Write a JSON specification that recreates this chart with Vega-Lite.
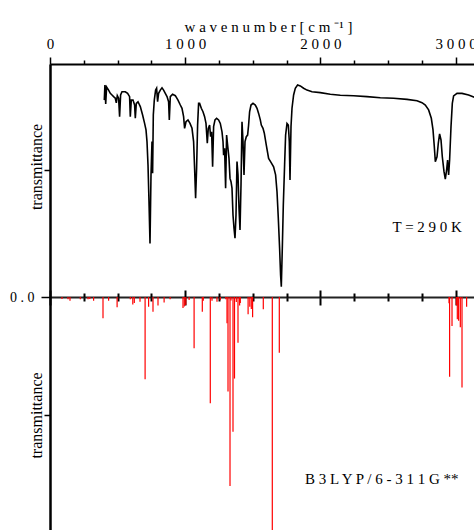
{
  "$schema": "https://vega.github.io/schema/vega-lite/v6.json",
  "width": 424,
  "height": 466,
  "autosize": {"type": "none"},
  "padding": {"left": 50, "top": 64, "right": 0, "bottom": 0},
  "background": "white",
  "config": {"view": {"stroke": null}},
  "datasets": {
    "exp": [
      {"wn":401.6,"t":84.5},{"wn":406.1,"t":91.0},{"wn":412.0,"t":82.8},{"wn":418.6,"t":90.1},{"wn":433.4,"t":88.8},{"wn":446.0,"t":87.4},{"wn":458.6,"t":86.7},{"wn":470.4,"t":86.0},{"wn":483.0,"t":85.3},{"wn":490.4,"t":83.3},{"wn":497.8,"t":86.4},{"wn":507.4,"t":85.3},{"wn":514.8,"t":77.4},{"wn":522.2,"t":86.7},{"wn":532.5,"t":88.1},{"wn":556.9,"t":88.1},{"wn":574.0,"t":87.4},{"wn":588.7,"t":86.0},{"wn":593.9,"t":77.4},{"wn":601.3,"t":84.5},{"wn":613.9,"t":84.5},{"wn":625.7,"t":82.4},{"wn":630.9,"t":76.7},{"wn":638.3,"t":83.1},{"wn":650.9,"t":83.8},{"wn":667.9,"t":81.7},{"wn":684.9,"t":78.1},{"wn":699.7,"t":74.5},{"wn":710.1,"t":71.7},{"wn":717.4,"t":66.7},{"wn":724.9,"t":56.7},{"wn":732.2,"t":40.9},{"wn":739.6,"t":23.0},{"wn":747.0,"t":52.4},{"wn":754.4,"t":66.7},{"wn":758.9,"t":53.1},{"wn":764.1,"t":78.1},{"wn":771.4,"t":84.5},{"wn":781.1,"t":88.8},{"wn":788.5,"t":89.6},{"wn":795.8,"t":83.8},{"wn":803.3,"t":87.4},{"wn":815.8,"t":88.8},{"wn":828.4,"t":89.8},{"wn":840.2,"t":88.8},{"wn":852.8,"t":87.4},{"wn":865.4,"t":86.0},{"wn":877.2,"t":83.8},{"wn":882.4,"t":76.0},{"wn":889.8,"t":86.0},{"wn":906.8,"t":87.0},{"wn":926.8,"t":86.4},{"wn":946.7,"t":84.5},{"wn":963.8,"t":82.4},{"wn":976.3,"t":81.0},{"wn":988.1,"t":77.4},{"wn":995.5,"t":72.4},{"wn":1005.9,"t":75.2},{"wn":1020.7,"t":76.0},{"wn":1035.5,"t":74.5},{"wn":1050.3,"t":72.4},{"wn":1062.1,"t":66.7},{"wn":1069.5,"t":55.2},{"wn":1076.9,"t":42.4},{"wn":1084.3,"t":55.2},{"wn":1091.7,"t":73.8},{"wn":1099.1,"t":83.1},{"wn":1106.5,"t":83.1},{"wn":1119.1,"t":81.0},{"wn":1131.6,"t":79.5},{"wn":1143.5,"t":77.4},{"wn":1153.8,"t":74.5},{"wn":1163.4,"t":66.0},{"wn":1170.8,"t":72.4},{"wn":1180.5,"t":73.8},{"wn":1187.9,"t":68.8},{"wn":1195.3,"t":70.9},{"wn":1202.7,"t":55.9},{"wn":1210.1,"t":73.1},{"wn":1220.4,"t":76.0},{"wn":1232.2,"t":76.7},{"wn":1247.0,"t":76.0},{"wn":1259.6,"t":74.5},{"wn":1272.2,"t":70.9},{"wn":1279.6,"t":66.7},{"wn":1284.0,"t":60.9},{"wn":1291.4,"t":63.8},{"wn":1298.8,"t":46.7},{"wn":1306.2,"t":69.5},{"wn":1313.6,"t":65.2},{"wn":1323.9,"t":59.5},{"wn":1331.4,"t":50.9},{"wn":1338.8,"t":49.5},{"wn":1346.1,"t":46.7},{"wn":1353.5,"t":35.2},{"wn":1360.9,"t":29.5},{"wn":1368.3,"t":25.2},{"wn":1375.7,"t":35.2},{"wn":1383.1,"t":58.1},{"wn":1390.5,"t":52.4},{"wn":1397.9,"t":38.1},{"wn":1405.3,"t":28.8},{"wn":1412.7,"t":48.1},{"wn":1420.1,"t":75.2},{"wn":1427.5,"t":66.7},{"wn":1434.9,"t":52.4},{"wn":1442.3,"t":66.7},{"wn":1451.9,"t":68.8},{"wn":1461.6,"t":69.5},{"wn":1468.9,"t":73.8},{"wn":1476.3,"t":79.5},{"wn":1486.7,"t":82.4},{"wn":1501.5,"t":83.1},{"wn":1518.5,"t":82.4},{"wn":1531.1,"t":81.0},{"wn":1542.9,"t":78.8},{"wn":1555.5,"t":76.0},{"wn":1562.9,"t":73.8},{"wn":1575.4,"t":72.4},{"wn":1585.1,"t":70.3},{"wn":1599.8,"t":65.2},{"wn":1616.9,"t":59.5},{"wn":1634.6,"t":57.8},{"wn":1653.8,"t":55.9},{"wn":1668.6,"t":52.4},{"wn":1679.0,"t":45.2},{"wn":1688.6,"t":33.8},{"wn":1698.2,"t":20.9},{"wn":1705.6,"t":9.4},{"wn":1710.8,"t":4.4},{"wn":1718.2,"t":20.9},{"wn":1725.6,"t":39.5},{"wn":1735.2,"t":56.7},{"wn":1742.6,"t":69.5},{"wn":1752.9,"t":74.5},{"wn":1762.6,"t":73.8},{"wn":1770.0,"t":66.7},{"wn":1775.1,"t":50.2},{"wn":1782.5,"t":73.1},{"wn":1789.9,"t":81.0},{"wn":1801.8,"t":86.7},{"wn":1814.3,"t":89.6},{"wn":1831.3,"t":91.0},{"wn":1851.3,"t":90.6},{"wn":1875.7,"t":89.6},{"wn":1900.9,"t":88.8},{"wn":1937.9,"t":88.1},{"wn":1999.2,"t":87.7},{"wn":2073.2,"t":87.0},{"wn":2147.2,"t":86.6},{"wn":2245.5,"t":86.4},{"wn":2344.7,"t":86.0},{"wn":2443.0,"t":85.5},{"wn":2541.4,"t":85.3},{"wn":2640.5,"t":84.8},{"wn":2714.5,"t":84.2},{"wn":2751.5,"t":83.4},{"wn":2775.9,"t":82.4},{"wn":2800.3,"t":80.3},{"wn":2820.3,"t":76.7},{"wn":2832.8,"t":71.7},{"wn":2842.5,"t":64.5},{"wn":2849.9,"t":58.1},{"wn":2862.4,"t":60.2},{"wn":2872.0,"t":66.0},{"wn":2881.6,"t":70.0},{"wn":2892.0,"t":67.4},{"wn":2901.6,"t":60.2},{"wn":2914.2,"t":53.8},{"wn":2923.8,"t":50.6},{"wn":2933.4,"t":54.5},{"wn":2940.8,"t":58.8},{"wn":2948.2,"t":52.4},{"wn":2955.6,"t":58.8},{"wn":2965.9,"t":73.1},{"wn":2975.6,"t":83.1},{"wn":2985.2,"t":86.3},{"wn":3010.3,"t":87.4},{"wn":3047.3,"t":87.4},{"wn":3096.1,"t":86.7},{"wn":3138.3,"t":85.7},{"wn":3200,"t":84.5}
    ],
    "calc": [
      {"wn":88.8,"i":-0.9},{"wn":133.1,"i":-1.0},{"wn":147.9,"i":-1.6},{"wn":224.1,"i":-1.0},{"wn":281.1,"i":-1.0},{"wn":294.4,"i":-0.9},{"wn":322.5,"i":-1.6},{"wn":392.0,"i":-9.1},{"wn":433.4,"i":-1.6},{"wn":496.3,"i":-4.4},{"wn":593.9,"i":-1.0},{"wn":612.4,"i":-3.2},{"wn":623.5,"i":-2.6},{"wn":665.7,"i":-2.0},{"wn":703.4,"i":-35.3},{"wn":729.3,"i":-4.2},{"wn":761.8,"i":-6.3},{"wn":798.8,"i":-3.6},{"wn":844.0,"i":-2.4},{"wn":888.3,"i":-1.0},{"wn":983.7,"i":-4.7},{"wn":993.3,"i":-4.1},{"wn":1004.4,"i":-3.4},{"wn":1028.8,"i":-1.3},{"wn":1065.8,"i":-22.0},{"wn":1126.5,"i":-6.3},{"wn":1133.9,"i":-1.6},{"wn":1185.6,"i":-45.6},{"wn":1198.2,"i":-1.6},{"wn":1235.2,"i":-2.0},{"wn":1259.6,"i":-1.3},{"wn":1300.3,"i":-1.0},{"wn":1309.2,"i":-11.3},{"wn":1316.6,"i":-40.6},{"wn":1331.4,"i":-81.1},{"wn":1338.8,"i":-1.5},{"wn":1353.5,"i":-57.8},{"wn":1364.6,"i":-35.0},{"wn":1378.0,"i":-2.1},{"wn":1390.5,"i":-19.6},{"wn":1402.4,"i":-3.6},{"wn":1407.5,"i":-2.6},{"wn":1465.2,"i":-7.4},{"wn":1477.8,"i":-4.2},{"wn":1488.9,"i":-5.2},{"wn":1498.5,"i":-8.7},{"wn":1577.6,"i":-5.3},{"wn":1644.2,"i":-104.3},{"wn":1696.0,"i":-23.9},{"wn":2951.2,"i":-2.7},{"wn":2955.6,"i":-34.2},{"wn":2973.4,"i":-12.4},{"wn":3005.2,"i":-3.4},{"wn":3012.6,"i":-9.6},{"wn":3022.2,"i":-10.2},{"wn":3034.8,"i":-13.0},{"wn":3047.3,"i":-38.8},{"wn":3081.4,"i":-4.2}
    ],
    "notes": [
      {"wn": 2790, "t": 30, "label": "T = 2 9 0  K"},
      {"wn": 2454, "t": -78.1, "label": "B 3 L Y P / 6 - 3 1 1 G **"}
    ]
  },
  "resolve": {"axis": {"x": "independent", "y": "independent"}},
  "layer": [
    {
      "data": {"name": "exp"},
      "mark": {"type": "line", "color": "black", "strokeWidth": 1.6, "clip": true},
      "encoding": {
        "x": {
          "field": "wn", "type": "quantitative",
          "scale": {"domain": [0, 3136], "nice": false, "zero": false},
          "axis": {
            "orient": "top",
            "values": [0, 250, 500, 750, 1000, 1250, 1500, 1750, 2000, 2250, 2500, 2750, 3000],
            "format": "d",
            "labelExpr": "datum.value % 1000 === 0 ? join(split(datum.label, ''), ' ') : ''",
            "labelFlush": false, "labelOverlap": false, "labelBound": false,
            "labelFont": "Liberation Serif", "labelFontSize": 15, "labelColor": "black", "labelPadding": 6,
            "tickSize": {"condition": {"test": "datum.value % 1000 === 0", "value": 7}, "value": 4},
            "tickColor": "black", "tickWidth": 1.5,
            "domainColor": "black", "domainWidth": 2, "grid": false,
            "title": "w a v e n u m b e r  [ c m ⁻¹ ]",
            "titleFont": "Liberation Serif", "titleFontSize": 15, "titleFontWeight": "normal", "titleColor": "black",
            "titleX": 218, "titleY": -33, "titleBaseline": "alphabetic", "titleAlign": "center"
          }
        },
        "y": {
          "field": "t", "type": "quantitative",
          "scale": {"domain": [-100, 100], "nice": false, "zero": false},
          "axis": {
            "orient": "left", "values": [54.5], "labels": false,
            "tickSize": 6, "tickColor": "black", "tickWidth": 1.5,
            "domainColor": "black", "domainWidth": 2, "grid": false,
            "title": "transmittance",
            "titleFont": "Liberation Serif", "titleFontSize": 16, "titleFontWeight": "normal", "titleColor": "black",
            "titleX": -14, "titleY": 102.5, "titleAngle": -90, "titleBaseline": "middle", "titleAlign": "center"
          }
        }
      }
    },
    {
      "data": {"name": "calc"},
      "mark": {"type": "rule", "color": "#ff0000", "strokeWidth": 1.2, "clip": true},
      "encoding": {
        "x": {
          "field": "wn", "type": "quantitative",
          "scale": {"domain": [0, 3136], "nice": false, "zero": false},
          "axis": {
            "orient": "bottom", "offset": -233,
            "values": [0, 250, 500, 750, 1000, 1250, 1500, 1750, 2000, 2250, 2500, 2750, 3000],
            "labels": false,
            "tickSize": {"condition": {"test": "datum.value % 1000 === 0", "value": 8}, "value": 4},
            "tickColor": "black", "tickWidth": 2,
            "domainColor": "#222222", "domainWidth": 2, "grid": false, "title": null
          }
        },
        "y": {
          "field": "i", "type": "quantitative",
          "scale": {"domain": [-100, 100], "nice": false, "zero": false},
          "axis": {
            "orient": "left", "values": [0, -50.6],
            "labelExpr": "datum.value === 0 ? '0 . 0' : ''",
            "labelFont": "Liberation Serif", "labelFontSize": 14, "labelColor": "black", "labelPadding": 7,
            "tickSize": {"condition": {"test": "datum.value === 0", "value": 9}, "value": 6},
            "tickColor": "black", "tickWidth": 1.5,
            "domainColor": "black", "domainWidth": 2, "grid": false,
            "title": "transmittance",
            "titleFont": "Liberation Serif", "titleFontSize": 16, "titleFontWeight": "normal", "titleColor": "black",
            "titleX": -14, "titleY": 351, "titleAngle": -90, "titleBaseline": "middle", "titleAlign": "center"
          }
        },
        "y2": {"datum": 0}
      }
    },
    {
      "data": {"name": "notes"},
      "mark": {"type": "text", "font": "Liberation Serif", "fontSize": 15, "color": "black", "align": "center", "baseline": "middle"},
      "encoding": {
        "x": {
          "field": "wn", "type": "quantitative",
          "scale": {"domain": [0, 3136], "nice": false, "zero": false},
          "axis": {
            "orient": "top", "offset": -233,
            "values": [0, 250, 500, 750, 1000, 1250, 1500, 1750, 2000, 2250, 2500, 2750, 3000],
            "labels": false, "domain": false,
            "tickSize": {"condition": {"test": "datum.value % 1000 === 0", "value": 7}, "value": 4},
            "tickColor": "black", "tickWidth": 2, "grid": false, "title": null
          }
        },
        "y": {
          "field": "t", "type": "quantitative",
          "scale": {"domain": [-100, 100], "nice": false, "zero": false},
          "axis": null
        },
        "text": {"field": "label"}
      }
    }
  ]
}
